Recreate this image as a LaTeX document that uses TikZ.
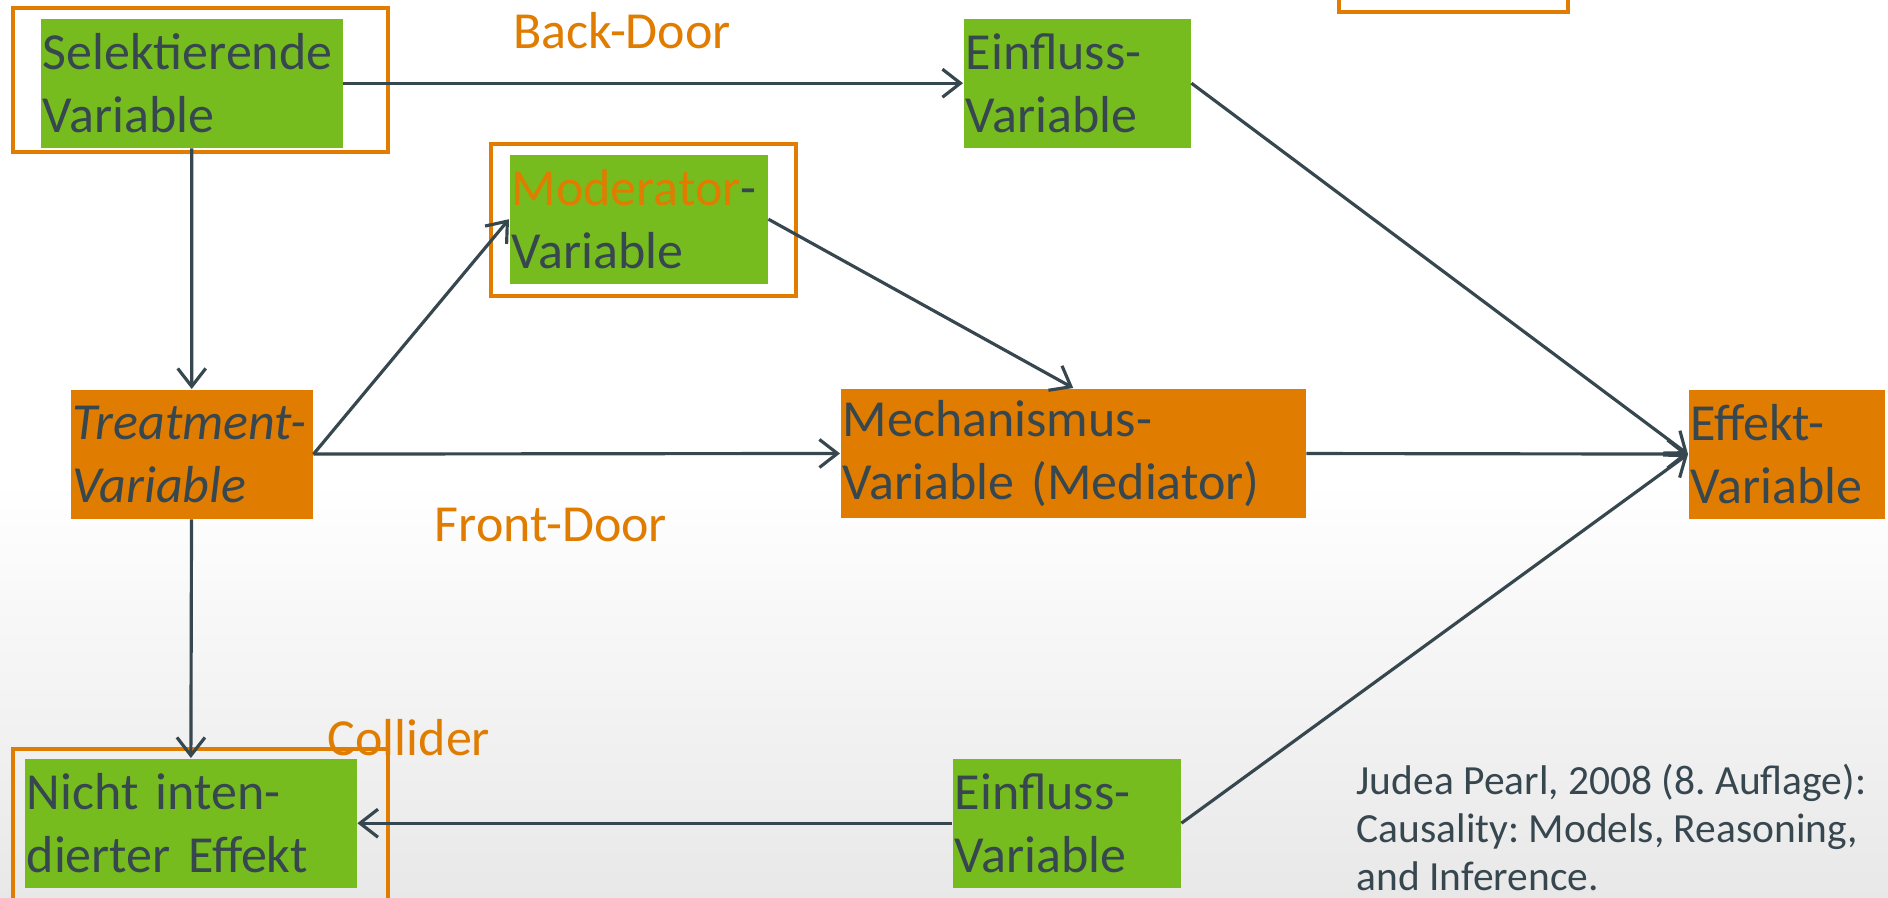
\documentclass[tikz,border=0pt]{standalone}
\usepackage{fontspec}
\setmainfont{Carlito}
\frenchspacing
\usetikzlibrary{arrows.meta}
\definecolor{leaf}{RGB}{119,188,31}
\definecolor{amber}{RGB}{224,124,0}
\definecolor{slate}{RGB}{55,71,79}
\begin{document}
\begin{tikzpicture}[
  >={Straight Barb[length=1.8mm,width=2.8mm]},
  every node/.style={font=\fontsize{14.8}{17.9}\selectfont, text=slate},
  varbox/.style={anchor=north west, align=left, inner xsep=0.02cm, inner ysep=0pt, minimum height=1.29cm},
  gbox/.style={varbox, fill=leaf},
  obox/.style={varbox, fill=amber},
  frame/.style={draw=amber, line width=1.2pt},
  link/.style={->, draw=slate, line width=0.9pt},
  door/.style={text=amber}]

\useasboundingbox (0,0) rectangle (18.88,-8.98);
\clip (0,0) rectangle (18.88,-8.98);
\fill[white] (0,0) rectangle (18.88,-8.98);
\shade[top color=white, bottom color=gray!18] (0,-4.8) rectangle (18.88,-8.98);

\node[gbox, text width=2.98cm] (sel) at (0.40,-0.18) {Selektierende\\Variable};
\node[gbox, text width=2.23cm] (einf1) at (9.63,-0.18) {Einfluss-\\Variable};
\node[gbox, text width=2.54cm] (mod) at (5.09,-1.54) {\textcolor{amber}{Moderator}-\\Variable};
\node[obox, text width=2.38cm] (treat) at (0.70,-3.89) {\itshape Treatment-\\\itshape Variable};
\node[obox, text width=4.61cm] (mech) at (8.40,-3.88) {Mechanismus-\\Variable (Mediator)};
\node[obox, text width=1.92cm] (eff) at (16.88,-3.89) {Effekt-\\Variable};
\node[gbox, text width=3.28cm] (nicht) at (0.24,-7.58) {Nicht inten-\\dierter Effekt};
\node[gbox, text width=2.24cm] (einf2) at (9.52,-7.58) {Einfluss-\\Variable};

\draw[frame] (0.13,-0.08) rectangle (3.88,-1.52);
\draw[frame] (4.91,-1.44) rectangle (7.96,-2.96);
\draw[frame] (0.13,-7.49) rectangle (3.88,-9.10);
\draw[frame] (13.39,0.50) rectangle (15.68,-0.12);

\node[door] (back) at (6.22,-0.31) {Back-Door};
\node[door] (front) at (5.51,-5.25) {Front-Door};
\node[door] (coll) at (4.09,-7.38) {Collider};
\node[anchor=north west, align=left, inner sep=0pt, font=\fontsize{11.8}{13.7}\selectfont] (cite) at (13.56,-7.63)
  {Judea Pearl, 2008 (8. Auflage):\\Causality: Models, Reasoning,\\and Inference.};

\draw[link] (sel) -- (einf1);
\draw[link] (sel) -- (treat);
\draw[link] (treat.east) -- (mod.west);
\draw[link] (treat) -- (mech);
\draw[link] (mod.east) -- (mech.north);
\draw[link] (mech) -- (eff);
\draw[link] (einf1.east) -- (eff.west);
\draw[link] (treat) -- (nicht);
\draw[link] (einf2) -- (nicht);
\draw[link] (einf2.east) -- (eff.west);

\end{tikzpicture}
\end{document}
